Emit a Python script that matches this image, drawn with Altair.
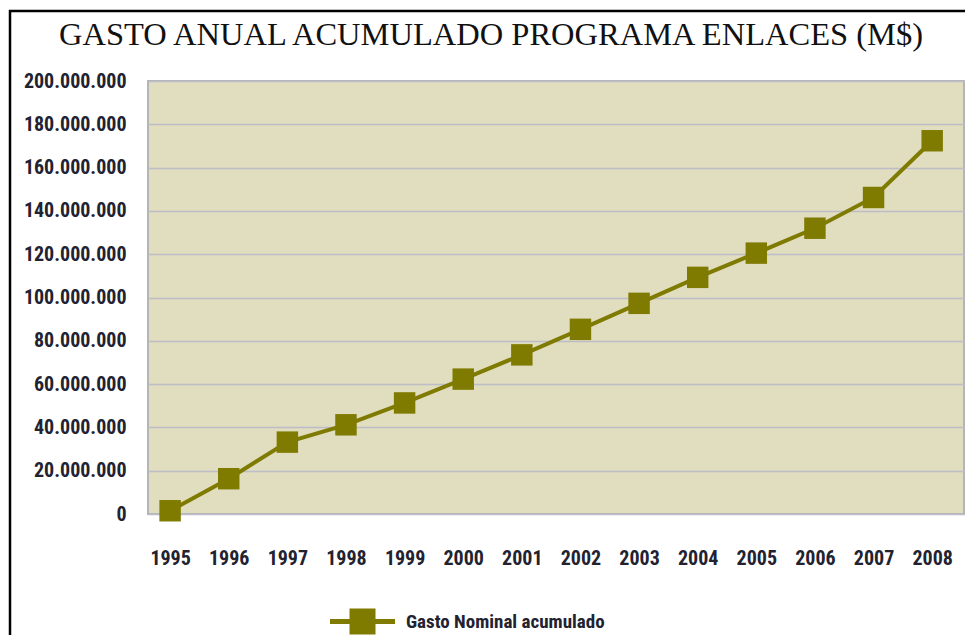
import altair as alt
import pandas as pd

TITLE = "GASTO ANUAL ACUMULADO PROGRAMA ENLACES (M$)"
SERIES = "Gasto Nominal acumulado"
years = ["1995", "1996", "1997", "1998", "1999", "2000", "2001",
         "2002", "2003", "2004", "2005", "2006", "2007", "2008"]
values = [1.5e6, 16.3e6, 33.2e6, 41.2e6, 51.3e6, 62.3e6, 73.5e6,
          85.3e6, 97.3e6, 109.3e6, 120.5e6, 132.0e6, 146.2e6, 172.4e6]
y_ticks = [0, 20e6, 40e6, 60e6, 80e6, 100e6, 120e6, 140e6, 160e6, 180e6, 200e6]

df = pd.DataFrame({"year": years, "value": values, "serie": [SERIES] * len(years)})

OLIVE = "#7f7a00"
TXT = "#222230"
SANS = "Liberation Sans Narrow, Roboto Condensed, Liberation Sans, sans-serif"

x = alt.X("year:O",
          scale=alt.Scale(type="point", padding=0.46, align=0.41),
          axis=alt.Axis(title=None, labelAngle=0, labelPadding=34, ticks=False,
                        domain=False, grid=False, labelFont=SANS, labelFontSize=20,
                        labelFontWeight="bold", labelColor=TXT))
y = alt.Y("value:Q",
          scale=alt.Scale(domain=[0, 200e6], nice=False, zero=True),
          axis=alt.Axis(title=None, values=y_ticks, ticks=False, domain=False,
                        labelPadding=22, labelFont=SANS, labelFontSize=20,
                        labelFontWeight="bold", labelColor=TXT,
                        labelExpr="replace(replace(format(datum.value, ','), ',', '.'), ',', '.')",
                        gridColor="#bcbdc6", gridWidth=1.5))

one = pd.DataFrame({"t": [TITLE]})

border = alt.Chart(one).mark_rect(filled=False, stroke="black", strokeWidth=2.5).encode(
    x=alt.value(-138), x2=alt.value(860), y=alt.value(-70), y2=alt.value(640))

title = alt.Chart(one).mark_text(font="Liberation Serif", fontSize=32.5, color="#111",
                                 baseline="alphabetic", align="center").encode(
    text="t:N", x=alt.value(343), y=alt.value(-36))

line = alt.Chart(df).mark_line(color=OLIVE, strokeWidth=4).encode(x=x, y=y)

path = "M-1,-0.08H-0.4V-0.4H0.4V-0.08H1V0.08H0.4V0.4H-0.4V0.08H-1Z"
pts = alt.Chart(df).mark_point(shape="square", filled=True, size=460, opacity=1).encode(
    x=x, y=y,
    color=alt.Color("serie:N", scale=alt.Scale(range=[OLIVE]),
                    legend=alt.Legend(title=None, orient="none", legendX=182, legendY=508,
                                      symbolType=path, symbolSize=4225, symbolStrokeWidth=0,
                                      symbolOpacity=1, labelLimit=0,
                                      labelFont=SANS, labelFontSize=19, labelFontWeight="bold",
                                      labelColor=TXT, labelOffset=11, padding=0)))

chart = alt.layer(border, line, pts, title).properties(
    width=816, height=433,
    autosize=alt.AutoSizeParams(type="none"),
    padding={"left": 140, "top": 73, "right": 1, "bottom": 121},
    background="white",
).configure_view(fill="#e1dec0", stroke="#b5b5b8", strokeWidth=2)

chart.save("out.html", embed_options={"renderer": "svg", "actions": False})
